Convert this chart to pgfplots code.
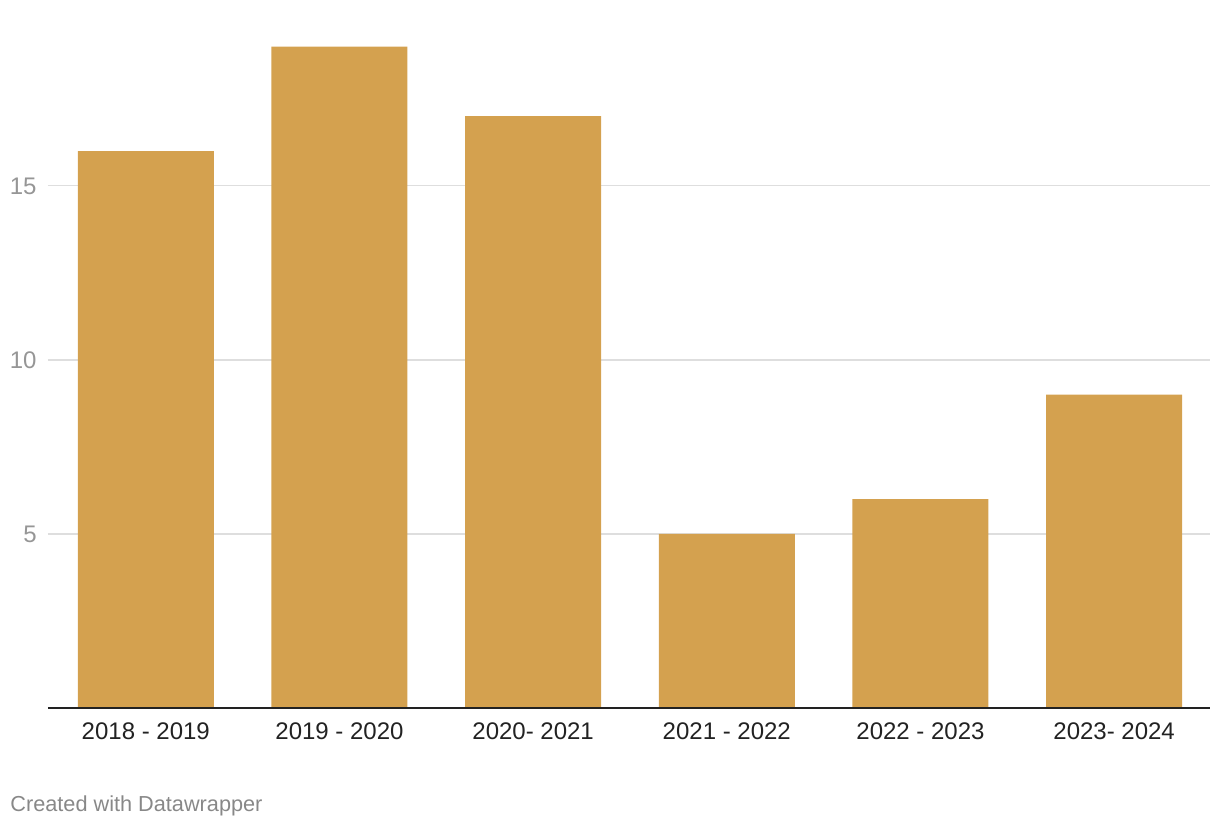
\documentclass[border=0pt]{standalone}
\usepackage{pgfplots}
\pgfplotsset{compat=1.18}
\usepackage{fontspec}
\setmainfont{Liberation Sans}
\definecolor{barcol}{RGB}{212,161,79}
\definecolor{gridcol}{RGB}{222,222,222}
\definecolor{ylab}{RGB}{150,150,150}
\definecolor{xlab}{RGB}{34,34,34}
\definecolor{foot}{RGB}{136,136,136}
\begin{document}
\begin{tikzpicture}
\useasboundingbox (0,0) rectangle (610pt,414pt);
\begin{axis}[
  at={(24pt,60pt)}, anchor=south west,
  scale only axis, width=581pt, height=354pt,
  xmin=-0.505, xmax=5.495, ymin=0, ymax=20.34,
  axis line style={draw=none},
  major tick length=0pt,
  xtick={0,1,2,3,4,5},
  xticklabels={2018 - 2019, 2019 - 2020, 2020- 2021, 2021 - 2022, 2022 - 2023, 2023- 2024},
  ytick={5,10,15},
  ymajorgrids, grid style={gridcol, line width=0.6pt},
  tick label style={font=\fontsize{12}{14}\selectfont},
  /pgf/number format/assume math mode=true,
  xticklabel style={xlab, anchor=north, inner sep=0pt, yshift=-7pt},
  yticklabel style={ylab, anchor=east, inner sep=0pt, xshift=-5.5pt},
  clip=false,
]
\addplot[ybar, bar width=68pt, bar shift=0pt, fill=barcol, draw=none]
  coordinates {(0,16) (1,19) (2,17) (3,5) (4,6) (5,9)};
\draw[xlab, line width=1pt] (rel axis cs:0,0) -- (rel axis cs:1,0);
\end{axis}
\node[anchor=base west, inner sep=0pt, foot, font=\fontsize{10.85}{12}\selectfont] at (5pt,8pt) {Created with Datawrapper};
\end{tikzpicture}
\end{document}
